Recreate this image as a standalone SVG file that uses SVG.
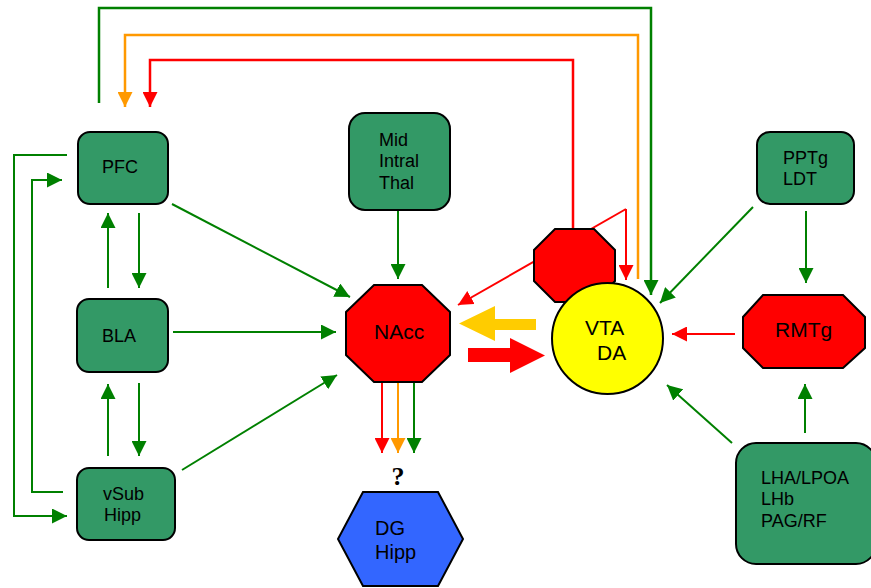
<svg xmlns="http://www.w3.org/2000/svg" width="871" height="588" viewBox="0 0 871 588">
<style>
.box{fill:#339966;stroke:#000;stroke-width:2}
.t{font-family:"Liberation Sans",Arial,sans-serif;font-size:18px;fill:#000}
.tl{font-family:"Liberation Sans",Arial,sans-serif;font-size:21px;fill:#000}
.g{stroke:#008000;stroke-width:2;fill:none}
.gt{stroke:#008000;stroke-width:2.5;fill:none}
.r{stroke:#ff0000;stroke-width:2;fill:none}
.o{stroke:#ff9900;stroke-width:2.5;fill:none}
</style>
<defs>
<marker id="ag" markerUnits="userSpaceOnUse" markerWidth="15" markerHeight="15" refX="15" refY="7.5" orient="auto"><path d="M0,0 L15,7.5 L0,15 z" fill="#008000"/></marker>
<marker id="ar" markerUnits="userSpaceOnUse" markerWidth="15" markerHeight="15" refX="15" refY="7.5" orient="auto"><path d="M0,0 L15,7.5 L0,15 z" fill="#ff0000"/></marker>
<marker id="ao" markerUnits="userSpaceOnUse" markerWidth="15" markerHeight="15" refX="15" refY="7.5" orient="auto"><path d="M0,0 L15,7.5 L0,15 z" fill="#ff9900"/></marker>
</defs>
<rect width="871" height="588" fill="#fff"/>
<g id="connectors">
<path class="gt" d="M99,103 V8 H651 V295" marker-end="url(#ag)"/>
<path class="o" d="M638,279 V35 H125 V107" marker-end="url(#ao)"/>
<path class="r" d="M573,229 V60 H150 V107" marker-end="url(#ar)" style="stroke-width:2.5"/>
<path class="g" d="M67,155 H14 V516 H67" marker-end="url(#ag)"/>
<path class="g" d="M63,492 H32 V180 H62" marker-end="url(#ag)"/>
<path class="g" d="M108,288 V213" marker-end="url(#ag)"/>
<path class="g" d="M139,213 V288" marker-end="url(#ag)"/>
<path class="g" d="M108,456 V384" marker-end="url(#ag)"/>
<path class="g" d="M139,383 V456" marker-end="url(#ag)"/>
<path class="g" d="M172,204 L350,297" marker-end="url(#ag)"/>
<path class="g" d="M173,332 H336" marker-end="url(#ag)"/>
<path class="g" d="M182,470 L337,375" marker-end="url(#ag)"/>
<path class="g" d="M398,210 V279" marker-end="url(#ag)"/>
<path class="r" d="M382,382 V453" marker-end="url(#ar)"/>
<path class="o" d="M398,382 V453" marker-end="url(#ao)" style="stroke-width:2"/>
<path class="g" d="M414,382 V453" marker-end="url(#ag)"/>
<path class="r" d="M626,209 L458,305" marker-end="url(#ar)"/>
<path class="r" d="M626,209 V280" marker-end="url(#ar)"/>
<path class="g" d="M753,207 L660,303" marker-end="url(#ag)"/>
<path class="g" d="M806,211 V283" marker-end="url(#ag)"/>
<path class="r" d="M735,334 H672" marker-end="url(#ar)"/>
<path class="g" d="M732,443 L667,385" marker-end="url(#ag)"/>
<path class="g" d="M805,433 V384" marker-end="url(#ag)"/>
<path d="M536,319 H495 V306 L459,323.5 L495,341 V330 H536 z" fill="#ffcc00"/>
<path d="M468,348 H510 V338 L545,355.5 L510,373 V362 H468 z" fill="#ff0000"/>
</g>
<g id="PFC"><rect class="box" x="78" y="132" width="90" height="72" rx="12"/><text class="t" x="102" y="173">PFC</text></g>
<g id="BLA"><rect class="box" x="77" y="299" width="91" height="73" rx="12"/><text class="t" x="102" y="342">BLA</text></g>
<g id="vSub"><rect class="box" x="77" y="468" width="98" height="72" rx="12"/><text class="t" x="103" y="500">vSub</text><text class="t" x="104" y="521">Hipp</text></g>
<g id="MidThal"><rect class="box" x="349" y="113" width="101" height="97" rx="16"/><text class="t" x="379" y="146">Mid</text><text class="t" x="379" y="167">Intral</text><text class="t" x="379" y="189">Thal</text></g>
<g id="NAcc"><polygon points="374,285 422,285 450,312 450,355 422,382 374,382 346,355 346,312" fill="#ff0000" stroke="#000" stroke-width="2"/><text class="tl" x="374" y="339">NAcc</text></g>
<g id="question"><text x="398" y="485" text-anchor="middle" style="font-family:'Liberation Serif','Times New Roman',serif;font-weight:bold;font-size:26px">?</text></g>
<g id="DG"><polygon points="363,492 438,492 463,539 438,586 363,586 338,539" fill="#3366ff" stroke="#000" stroke-width="2"/><text class="tl" x="375" y="535" style="font-size:20px">DG</text><text class="tl" x="375" y="559" style="font-size:20px">Hipp</text></g>
<g id="interneuron"><polygon points="555,229 594,229 615,250 615,281 594,302 555,302 534,281 534,250" fill="#ff0000" stroke="#000" stroke-width="2"/></g>
<g id="VTA"><circle cx="607.5" cy="338.5" r="55.5" fill="#ffff00" stroke="#000" stroke-width="2"/><text class="tl" x="585" y="335">VTA</text><text class="tl" x="597" y="360">DA</text></g>
<g id="PPTg"><rect class="box" x="757" y="132" width="97" height="72" rx="13"/><text class="t" x="783" y="164">PPTg</text><text class="t" x="783" y="185">LDT</text></g>
<g id="RMTg"><polygon points="763,295 843,295 865,317 865,348 843,368 763,368 743,348 743,317" fill="#ff0000" stroke="#000" stroke-width="2"/><text class="tl" x="775" y="337">RMTg</text></g>
<g id="LHA"><rect class="box" x="736" y="443" width="140" height="121" rx="20"/><text class="t" x="761" y="484">LHA/LPOA</text><text class="t" x="761" y="505">LHb</text><text class="t" x="761" y="527">PAG/RF</text></g>
</svg>
